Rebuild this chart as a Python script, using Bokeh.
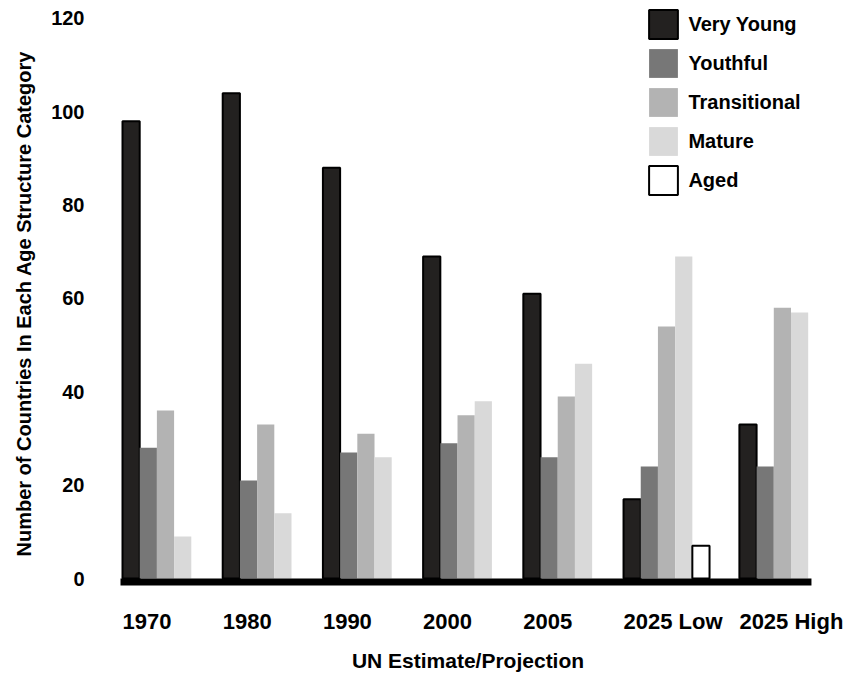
from bokeh.plotting import figure
from bokeh.models import Range1d, FixedTicker, Label, Legend, LegendItem, Title
from bokeh.core.properties import value
from bokeh.embed import file_html
from bokeh.resources import INLINE

# ---- data ----
categories = ["1970", "1980", "1990", "2000", "2005", "2025 Low", "2025 High"]
very_young = [98, 104, 88, 69, 61, 17, 33]
youthful = [28, 21, 27, 29, 26, 24, 24]
transitional = [36, 33, 31, 35, 39, 54, 58]
mature = [9, 14, 26, 38, 46, 69, 57]
aged = [0, 0, 0, 0, 0, 7, 0]
series_names = ["Very Young", "Youthful", "Transitional", "Mature", "Aged"]
y_ticks = [0, 20, 40, 60, 80, 100, 120]
y_title = "Number of Countries In Each Age Structure Category"
x_title = "UN Estimate/Projection"

# ---- layout ----
W, H = 850, 673
BORDER_LEFT = 96
FRAME_W = W - BORDER_LEFT
FRAME_H = H
PX_PER_UNIT = 4.667
ZERO_FROM_TOP = 578
SLOT_PX = 17.2
FIRST_PX = 26
GROUP_STEP = 5.826
LAST_EXTRA = 0.91
FONT = value("Liberation Sans")

y_end = ZERO_FROM_TOP / PX_PER_UNIT
y_start = -(H - ZERO_FROM_TOP) / PX_PER_UNIT
x_start = -FIRST_PX / SLOT_PX
x_end = x_start + FRAME_W / SLOT_PX

n = len(categories)
group_start = [i * GROUP_STEP + (LAST_EXTRA if i == n - 1 else 0) for i in range(n)]

p = figure(width=W, height=H, output_backend="svg", toolbar_location=None,
           x_range=Range1d(x_start, x_end), y_range=Range1d(y_start, y_end),
           min_border_left=BORDER_LEFT, min_border_right=0,
           min_border_top=0, min_border_bottom=0)
p.outline_line_color = None
p.xgrid.visible = False
p.ygrid.visible = False
p.xaxis.visible = False
p.background_fill_color = "white"
p.border_fill_color = "white"

ya = p.yaxis[0]
ya.ticker = FixedTicker(ticks=y_ticks)
ya.bounds = (y_ticks[0], y_ticks[-1])
ya.axis_line_color = None
ya.major_tick_line_color = None
ya.minor_tick_line_color = None
ya.major_tick_out = 0
ya.major_tick_in = 0
ya.minor_tick_out = 0
ya.major_label_standoff = 12
ya.major_label_text_font = "Liberation Sans"
ya.major_label_text_font_style = "bold"
ya.major_label_text_font_size = "20px"
ya.major_label_text_color = "black"

# y title as a side title, starting at the bottom end of the value axis
p.add_layout(Title(text=y_title, align="left", vertical_align="top", offset=H - 556,
                   text_font="Liberation Sans", text_font_style="bold",
                   text_font_size="20px", text_color="black", standoff=24), "left")

series = [very_young, youthful, transitional, mature, aged]
fills = ["#232120", "#777777", "#b3b3b3", "#d9d9d9", "#ffffff"]
lines = ["#000000", None, None, None, "#000000"]
renderers = []
for k, (vals, fc, lc) in enumerate(zip(series, fills, lines)):
    xs = [g + k + 0.5 for g, v in zip(group_start, vals) if v > 0]
    tops = [v for v in vals if v > 0]
    r = p.vbar(x=xs, top=tops, bottom=0, width=1.0, fill_color=fc,
               line_color=lc, line_width=2 if lc else 0)
    renderers.append(r)

# baseline
p.quad(left=[group_start[0] - 2 / SLOT_PX], right=[group_start[-1] + 4.19],
       top=[0], bottom=[-7 / PX_PER_UNIT], fill_color="black", line_color=None)

# category labels
p.text(x=group_start, y=[-(620.5 - ZERO_FROM_TOP) / PX_PER_UNIT] * n, text=categories,
       text_align="left", text_baseline="middle", text_font=FONT,
       text_font_style="bold", text_font_size="22px", text_color="black")

# x title
p.add_layout(Label(x=467.5 - BORDER_LEFT, y=FRAME_H - 660, x_units="screen", y_units="screen",
                   text=x_title, text_align="center", text_baseline="middle",
                   text_font="Liberation Sans", text_font_style="bold",
                   text_font_size="21px", text_color="black"))

GLYPH = 36
SPACING = 3
legend_h = 5 * GLYPH + 4 * SPACING
legend_top = 10 - 0.1 * GLYPH
legend = Legend(items=[LegendItem(label=nm, renderers=[r]) for nm, r in zip(series_names, renderers)],
                location=(649 - 0.1 * GLYPH - BORDER_LEFT, FRAME_H - (legend_top + legend_h)),
                orientation="vertical",
                glyph_width=GLYPH, glyph_height=GLYPH, spacing=SPACING, label_standoff=7,
                padding=0, margin=0, border_line_color=None, background_fill_alpha=0,
                label_text_font="Liberation Sans", label_text_font_style="bold",
                label_text_font_size="20px", label_text_color="black")
p.add_layout(legend)

open("out.html", "w").write(file_html(p, INLINE))
